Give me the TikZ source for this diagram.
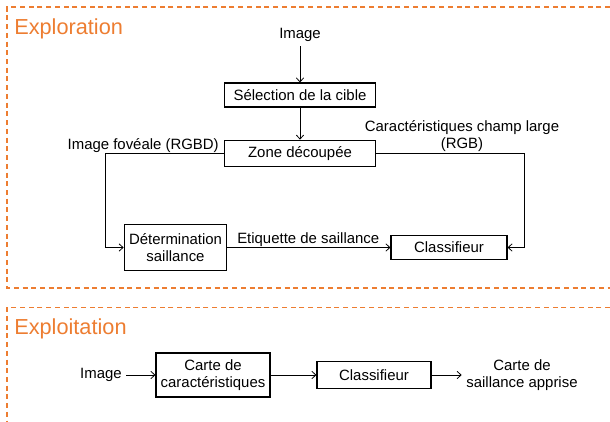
\documentclass[tikz,border=0pt]{standalone}
\usepackage{fontspec}
\setmainfont{Liberation Sans}
\usetikzlibrary{arrows.meta}
\definecolor{frameorange}{HTML}{ED7D31}

\begin{document}
\begin{tikzpicture}[x=0.75pt, y=-0.75pt,
    font=\fontsize{11.2}{13}\selectfont,
    block/.style={draw, line width=0.8pt, inner sep=0pt, align=center},
    link/.style={line width=0.6pt, -{Straight Barb[length=3pt,width=5.5pt]}},
    frame/.style={frameorange, line width=0.9pt, dash pattern=on 3.75pt off 2.8pt},
    title/.style={frameorange, font=\fontsize{16.3}{19}\selectfont, anchor=base west, inner sep=0pt}]
            \useasboundingbox (0,0) rectangle (610,421);
            \draw[frame] (610,7) -- (7,7) -- (7,288) -- (610,288);
            \draw[frame] (610,307.5) -- (7,307.5) -- (7,421);
            \draw (14,34) node[title] (explor) {Exploration};
            \draw (14,334) node[title] (exploit) {Exploitation};

            \draw (300,35) node (imgTop) {Image};
            \draw (300,95) node[block, minimum width=113pt, minimum height=18pt] (select) {Sélection de la cible};
            \draw (300,153.5) node[block, minimum width=113pt, minimum height=20pt] (zone) {Zone découpée};
            \draw (175.5,247.5) node[block, minimum width=77pt, minimum height=34pt] (deter) {Détermination\\saillance};
            \draw (449,247.5) node[block, minimum width=87pt, minimum height=18pt] (classif) {Classifieur};
            \draw (219,149) node[anchor=base east, inner sep=0pt] (fovea) {Image fovéale (RGBD)};
            \draw (462,136) node[align=center, inner sep=0pt] (wide) {Caractéristiques champ large\\(RGB)};
            \draw (237,243) node[anchor=base west, inner sep=0pt] (etiq) {Etiquette de saillance};
            \coordinate (foveaBend) at (105,153.5);
            \coordinate (wideBend) at (524,153.5);

            \draw[link] (imgTop) -- (select);
            \draw[link] (select) -- (zone);
            \draw[link] (zone.west) -- (foveaBend) |- (deter.west);
            \draw[link] (zone.east) -- (wideBend) |- (classif.east);
            \draw[link] (deter) -- (classif);

            \draw (101,375) node (imgBot) {Image};
            \draw (213,375) node[block, minimum width=85.5pt, minimum height=33pt] (carte) {Carte de\\caractéristiques};
            \draw (374,375) node[block, minimum width=85.5pt, minimum height=20pt] (classifB) {Classifieur};
            \draw (522,375) node[align=center] (result) {Carte de\\saillance apprise};

            \draw[link] (imgBot) -- (carte);
            \draw[link] (carte) -- (classifB);
            \draw[link] (classifB) -- (result);
        \end{tikzpicture}
\end{document}
